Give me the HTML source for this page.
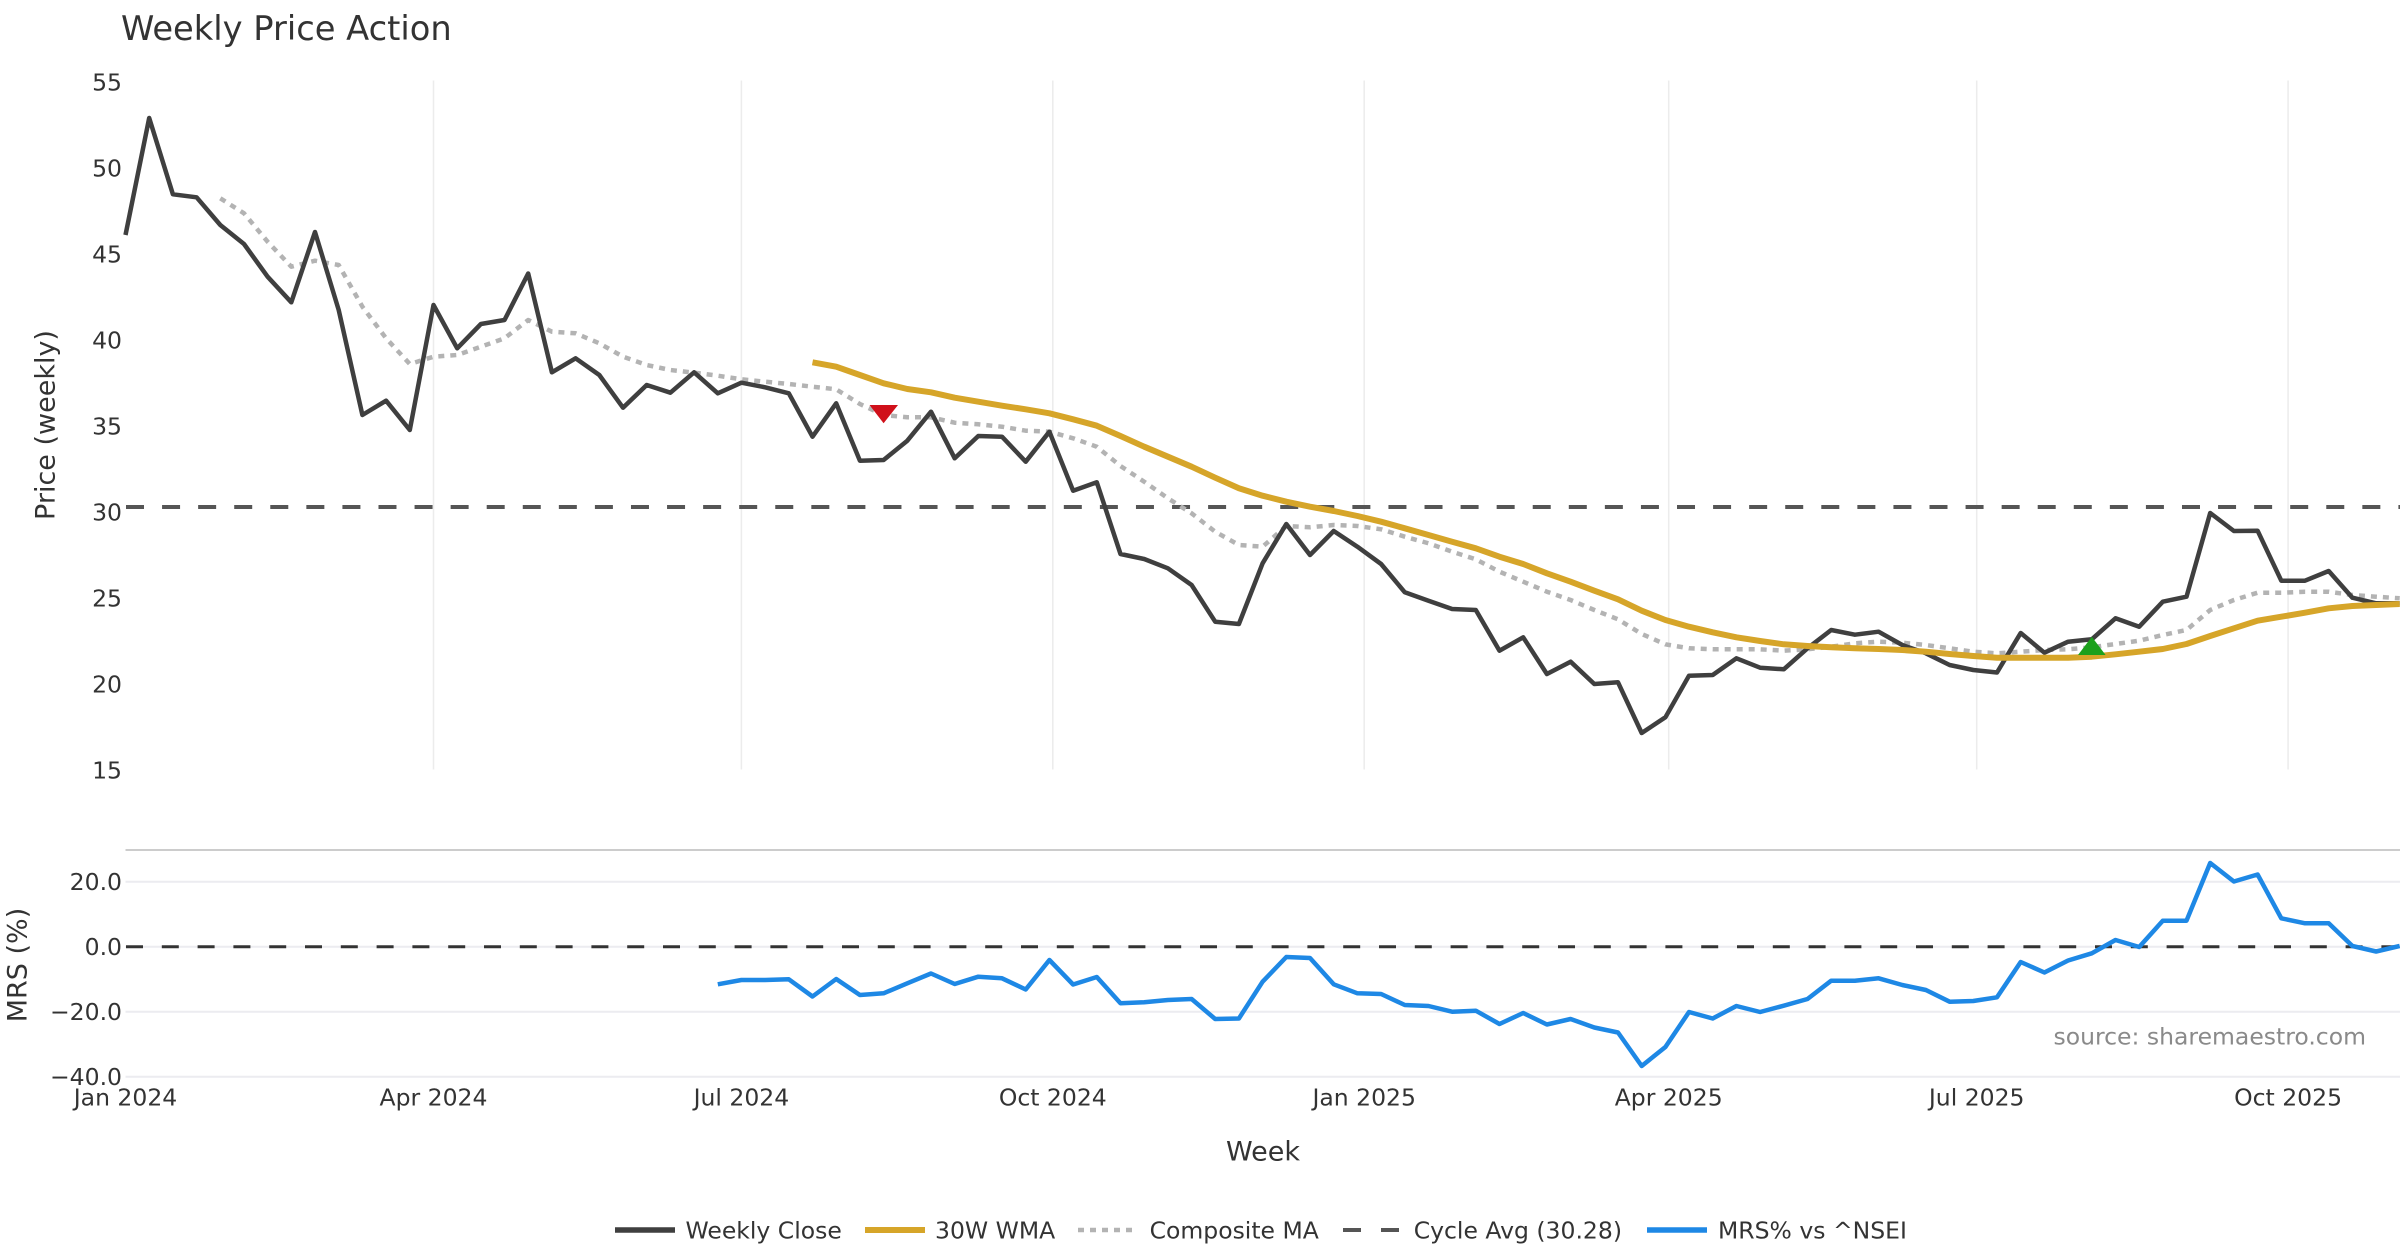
<!DOCTYPE html>
<html>
<head>
<meta charset="utf-8">
<style>
html,body{margin:0;padding:0;background:#fff;}
svg{display:block;}
text{font-family:"DejaVu Sans","Liberation Sans",sans-serif;fill:#333;}
</style>
</head>
<body>
<svg width="2400" height="1260" viewBox="0 0 2400 1260" xmlns="http://www.w3.org/2000/svg">
<rect x="0" y="0" width="2400" height="1260" fill="#fff"/>

<!-- Title -->
<text x="121" y="40" font-size="33.7">Weekly Price Action</text>

<!-- Top chart vertical gridlines -->
<g stroke="#ececec" stroke-width="1.5">
<line x1="433.5" y1="80.5" x2="433.5" y2="769.5"/>
<line x1="741.4" y1="80.5" x2="741.4" y2="769.5"/>
<line x1="1052.8" y1="80.5" x2="1052.8" y2="769.5"/>
<line x1="1364.2" y1="80.5" x2="1364.2" y2="769.5"/>
<line x1="1668.7" y1="80.5" x2="1668.7" y2="769.5"/>
<line x1="1976.7" y1="80.5" x2="1976.7" y2="769.5"/>
<line x1="2288.1" y1="80.5" x2="2288.1" y2="769.5"/>
</g>

<!-- Top chart y tick labels -->
<g font-size="23.5" text-anchor="end">
<text x="122" y="82" dy="0.36em">55</text>
<text x="122" y="168" dy="0.36em">50</text>
<text x="122" y="254" dy="0.36em">45</text>
<text x="122" y="340" dy="0.36em">40</text>
<text x="122" y="426" dy="0.36em">35</text>
<text x="122" y="512" dy="0.36em">30</text>
<text x="122" y="598" dy="0.36em">25</text>
<text x="122" y="684" dy="0.36em">20</text>
<text x="122" y="770" dy="0.36em">15</text>
</g>

<!-- Y axis title -->
<text x="0" y="0" font-size="27" text-anchor="middle" transform="translate(45,425) rotate(-90)" dy="0.36em">Price (weekly)</text>

<!-- Cycle avg dashed line -->
<line x1="126" y1="507" x2="2400" y2="507" stroke="#555" stroke-width="4" stroke-dasharray="18 18.07"/>

<!-- Composite MA -->
<path fill="none" stroke="#b3b3b3" stroke-width="4.5" stroke-dasharray="6 6" stroke-linejoin="round" d="M220.3,198.3 L244,213.3 L267.6,241.7 L291.3,266.7 L315,260.7 L338.7,265 L362.4,306.7 L386.1,338.3 L409.8,364 L433.5,356.7 L457.2,355 L480.9,346.7 L504.5,338.3 L528.2,320 L551.9,331.7 L575.6,333.3 L599.3,343.3 L623,356.7 L646.7,365 L670.4,370 L694.1,372.7 L717.8,375.7 L741.4,379.3 L765.1,381.7 L788.8,384 L812.5,386.7 L836.2,389.3 L859.9,404 L883.6,415 L907.3,417.3 L931,417.3 L954.7,422.7 L978.3,424.3 L1002,426.7 L1025.7,430.7 L1049.4,431.7 L1073.1,438.3 L1096.8,446.7 L1120.5,466 L1144.2,481.7 L1167.9,498.3 L1191.6,513.3 L1215.2,531.7 L1238.9,545 L1262.6,546.7 L1286.3,526 L1310,527.3 L1333.7,525 L1357.4,526 L1381.1,529.3 L1404.8,536.7 L1428.5,543.3 L1452.1,551.7 L1475.8,559.3 L1499.5,571.7 L1523.2,581.7 L1546.9,591.7 L1570.6,600 L1594.3,610 L1618,619.3 L1641.7,634 L1665.4,644.3 L1689,648.3 L1712.7,649.3 L1736.4,649.3 L1760.1,649.3 L1783.8,650.7 L1807.5,649.3 L1831.2,646.7 L1854.9,643.3 L1878.6,641.7 L1902.3,642.7 L1925.9,645 L1949.6,648.3 L1973.3,651.7 L1997,653.3 L2020.7,651.7 L2044.4,650 L2068.1,649.3 L2091.8,647.3 L2115.5,644 L2139.2,640.7 L2162.8,635 L2186.5,630 L2210.2,610 L2233.9,600 L2257.6,592.7 L2281.3,592.7 L2305,591.7 L2328.7,591.7 L2352.4,595 L2376.1,596.7 L2399.7,598.3"/>

<!-- Weekly Close -->
<path fill="none" stroke="#3f3f3f" stroke-width="4.5" stroke-linejoin="round" d="M125.5,235 L149.2,118 L172.9,194.3 L196.6,197.3 L220.3,225 L244,244 L267.6,276.7 L291.3,302.3 L315,232 L338.7,310 L362.4,415 L386.1,400.7 L409.8,430 L433.5,305 L457.2,348.3 L480.9,324 L504.5,320 L528.2,273.5 L551.9,372.3 L575.6,358.3 L599.3,375 L623,407.7 L646.7,385 L670.4,392.7 L694.1,372.3 L717.8,393.3 L741.4,382.7 L765.1,387.3 L788.8,393.3 L812.5,436.7 L836.2,403.3 L859.9,460.7 L883.6,460 L907.3,440.7 L931,411.7 L954.7,458.3 L978.3,436 L1002,436.7 L1025.7,461.7 L1049.4,431.7 L1073.1,490.7 L1096.8,482.3 L1120.5,554 L1144.2,559 L1167.9,568.3 L1191.6,585 L1215.2,621.7 L1238.9,624 L1262.6,563.3 L1286.3,524 L1310,555 L1333.7,531 L1357.4,546.7 L1381.1,564 L1404.8,592.3 L1428.5,600.7 L1452.1,609 L1475.8,610 L1499.5,650.7 L1523.2,637.3 L1546.9,674 L1570.6,661.7 L1594.3,684 L1618,682.3 L1641.7,733 L1665.4,717.3 L1689,675.7 L1712.7,675 L1736.4,658.3 L1760.1,667.7 L1783.8,669.3 L1807.5,648.3 L1831.2,630 L1854.9,634.7 L1878.6,631.7 L1902.3,645 L1925.9,653.3 L1949.6,665 L1973.3,670 L1997,672.5 L2020.7,633 L2044.4,652.7 L2068.1,641.7 L2091.8,639.3 L2115.5,618.3 L2139.2,626.7 L2162.8,601.7 L2186.5,596.7 L2210.2,513 L2233.9,531 L2257.6,530.7 L2281.3,580.7 L2305,580.7 L2328.7,571 L2352.4,597.7 L2376.1,603.3 L2399.7,603.3"/>

<!-- 30W WMA -->
<path fill="none" stroke="#d6a529" stroke-width="6" stroke-linejoin="round" d="M812.5,362.3 L836.2,366.7 L859.9,375 L883.6,383.3 L907.3,389 L931,392.3 L954.7,397.7 L978.3,401.7 L1002,405.7 L1025.7,409.3 L1049.4,413.3 L1073.1,419.3 L1096.8,425.7 L1120.5,436 L1144.2,446.7 L1167.9,456.7 L1191.6,466.7 L1215.2,477.7 L1238.9,488.3 L1262.6,495.7 L1286.3,501.7 L1310,506.7 L1333.7,511 L1357.4,516 L1381.1,521.7 L1404.8,528.3 L1428.5,535 L1452.1,541.7 L1475.8,548.3 L1499.5,556.7 L1523.2,564 L1546.9,573.3 L1570.6,581.7 L1594.3,590.7 L1618,599.3 L1641.7,610.7 L1665.4,620 L1689,626.7 L1712.7,632.3 L1736.4,637.3 L1760.1,641 L1783.8,644.3 L1807.5,646 L1831.2,647.3 L1854.9,648.3 L1878.6,649 L1902.3,650 L1925.9,651.7 L1949.6,654 L1973.3,656 L1997,657.7 L2020.7,657.7 L2044.4,657.7 L2068.1,657.7 L2091.8,656.7 L2115.5,654.3 L2139.2,651.7 L2162.8,649 L2186.5,644 L2210.2,636 L2233.9,628.3 L2257.6,620.7 L2281.3,616.7 L2305,612.7 L2328.7,608.3 L2352.4,606 L2376.1,605 L2399.7,604"/>

<!-- Signal markers -->
<polygon points="869.5,405 898,405 883.6,423.3" fill="#d0101a"/>
<polygon points="2091.8,636.7 2078,655 2105.6,655" fill="#1ca01c"/>

<!-- MRS panel -->
<line x1="125.5" y1="850" x2="2400" y2="850" stroke="#cccccc" stroke-width="2"/>
<g stroke="#ececf0" stroke-width="2">
<line x1="125.5" y1="881.7" x2="2400" y2="881.7"/>
<line x1="125.5" y1="946.7" x2="2400" y2="946.7"/>
<line x1="125.5" y1="1011.7" x2="2400" y2="1011.7"/>
<line x1="125.5" y1="1076.7" x2="2400" y2="1076.7"/>
</g>
<line x1="126" y1="946.7" x2="2400" y2="946.7" stroke="#333" stroke-width="3" stroke-dasharray="17 18.8"/>

<g font-size="23.5" text-anchor="end">
<text x="122" y="881.7" dy="0.36em">20.0</text>
<text x="122" y="946.7" dy="0.36em">0.0</text>
<text x="122" y="1011.7" dy="0.36em">&#8722;20.0</text>
<text x="122" y="1076.7" dy="0.36em">&#8722;40.0</text>
</g>
<text x="0" y="0" font-size="27" text-anchor="middle" transform="translate(17,965) rotate(-90)" dy="0.36em">MRS (%)</text>

<path fill="none" stroke="#1e88e5" stroke-width="4.5" stroke-linejoin="round" d="M717.8,984.3 L741.4,980 L765.1,980 L788.8,979.3 L812.5,996.5 L836.2,979 L859.9,995 L883.6,993.3 L907.3,983.3 L931,973.5 L954.7,984 L978.3,976.7 L1002,978.3 L1025.7,989.5 L1049.4,960 L1073.1,984.5 L1096.8,977 L1120.5,1003.3 L1144.2,1002.3 L1167.9,1000 L1191.6,999 L1215.2,1019 L1238.9,1018.5 L1262.6,981.7 L1286.3,957 L1310,958 L1333.7,984.3 L1357.4,993.3 L1381.1,994 L1404.8,1005 L1428.5,1006 L1452.1,1011.7 L1475.8,1010.7 L1499.5,1024 L1523.2,1013 L1546.9,1024.5 L1570.6,1019 L1594.3,1027.5 L1618,1032.5 L1641.7,1066 L1665.4,1047 L1689,1012 L1712.7,1018.5 L1736.4,1006 L1760.1,1012 L1783.8,1005.7 L1807.5,999 L1831.2,980.7 L1854.9,980.7 L1878.6,978.3 L1902.3,985 L1925.9,990 L1949.6,1001.7 L1973.3,1001 L1997,997.3 L2020.7,962 L2044.4,972.5 L2068.1,960.5 L2091.8,953.3 L2115.5,940 L2139.2,947 L2162.8,920.7 L2186.5,920.7 L2210.2,863 L2233.9,881.5 L2257.6,874.5 L2281.3,918.3 L2305,923.3 L2328.7,923.3 L2352.4,946 L2376.1,951.5 L2399.7,946"/>

<text x="2366" y="1036" dy="0.36em" font-size="23.5" text-anchor="end" style="fill:#8a8a8a">source: sharemaestro.com</text>

<!-- X tick labels -->
<g font-size="23.5" text-anchor="middle">
<text x="125.5" y="1097" dy="0.36em">Jan 2024</text>
<text x="433.5" y="1097" dy="0.36em">Apr 2024</text>
<text x="741.4" y="1097" dy="0.36em">Jul 2024</text>
<text x="1052.8" y="1097" dy="0.36em">Oct 2024</text>
<text x="1364.2" y="1097" dy="0.36em">Jan 2025</text>
<text x="1668.7" y="1097" dy="0.36em">Apr 2025</text>
<text x="1976.7" y="1097" dy="0.36em">Jul 2025</text>
<text x="2288.1" y="1097" dy="0.36em">Oct 2025</text>
</g>
<text x="1263" y="1151" dy="0.36em" font-size="27" text-anchor="middle">Week</text>

<!-- Legend -->
<line x1="615" y1="1230" x2="675" y2="1230" stroke="#3f3f3f" stroke-width="5.5"/>
<text x="685.5" y="1230" dy="0.36em" font-size="23.5">Weekly Close</text>
<line x1="865" y1="1230" x2="925" y2="1230" stroke="#d6a529" stroke-width="6"/>
<text x="935" y="1230" dy="0.36em" font-size="23.5">30W WMA</text>
<line x1="1078" y1="1230" x2="1138" y2="1230" stroke="#b3b3b3" stroke-width="4.5" stroke-dasharray="6 6"/>
<text x="1149.6" y="1230" dy="0.36em" font-size="23.5">Composite MA</text>
<line x1="1343" y1="1230" x2="1361" y2="1230" stroke="#555" stroke-width="4"/>
<line x1="1381" y1="1230" x2="1399" y2="1230" stroke="#555" stroke-width="4"/>
<text x="1413.7" y="1230" dy="0.36em" font-size="23.5">Cycle Avg (30.28)</text>
<line x1="1647" y1="1230" x2="1707" y2="1230" stroke="#1e88e5" stroke-width="5.5"/>
<text x="1718" y="1230" dy="0.36em" font-size="23.5">MRS% vs ^NSEI</text>
</svg>
</body>
</html>
